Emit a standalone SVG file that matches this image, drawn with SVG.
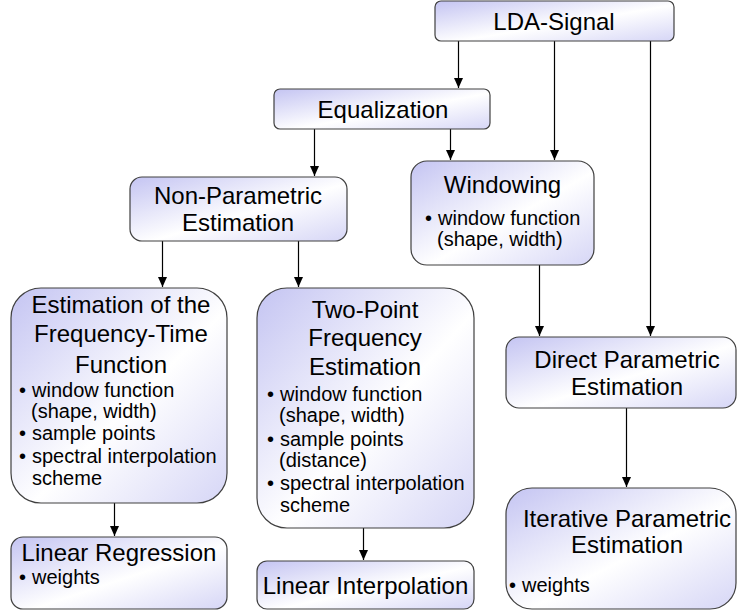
<svg xmlns="http://www.w3.org/2000/svg" width="737" height="615" viewBox="0 0 737 615">
<defs>
<linearGradient id="g" x1="0" y1="0" x2="1" y2="1">
<stop offset="0" stop-color="#c4c4f2"/>
<stop offset="0.55" stop-color="#ffffff"/>
<stop offset="1" stop-color="#d6d6f6"/>
</linearGradient>
<marker id="ah" viewBox="0 0 10 10" refX="10" refY="5" markerWidth="10" markerHeight="10" markerUnits="userSpaceOnUse" orient="auto">
<path d="M0,0.5 L10,5 L0,9.5 z" fill="#000"/>
</marker>
<style>
.box{fill:url(#g);stroke:#404040;stroke-width:1.2}
.t{font-family:"Liberation Sans",Arial,sans-serif;font-size:24px;fill:#000;text-anchor:middle}
.b{font-family:"Liberation Sans",Arial,sans-serif;font-size:20px;fill:#000}
.c{fill:none;stroke:#000;stroke-width:1.2;marker-end:url(#ah)}
</style>
</defs>
<rect width="737" height="615" fill="#fff"/>
<g id="connectors">
<path class="c" d="M458.5,41 V88"/>
<path class="c" d="M554.5,41 V160"/>
<path class="c" d="M650.5,41 V336"/>
<path class="c" d="M314.5,129 V176"/>
<path class="c" d="M450.5,129 V160"/>
<path class="c" d="M162.5,241 V287"/>
<path class="c" d="M298.5,241 V287"/>
<path class="c" d="M539.5,265 V336"/>
<path class="c" d="M114.5,503 V536"/>
<path class="c" d="M363.5,528 V560"/>
<path class="c" d="M626.5,408 V487"/>
</g>
<g id="lda">
<rect class="box" x="435" y="1" width="239" height="40" rx="6"/>
<text class="t" x="554" y="30">LDA-Signal</text>
</g>
<g id="equalization">
<rect class="box" x="274" y="89" width="216" height="40" rx="6"/>
<text class="t" x="383" y="118">Equalization</text>
</g>
<g id="nonparametric">
<rect class="box" x="130" y="177" width="217" height="64" rx="12"/>
<text class="t" x="238" y="204">Non-Parametric</text>
<text class="t" x="238" y="231">Estimation</text>
</g>
<g id="windowing">
<rect class="box" x="411" y="161" width="183" height="104" rx="16"/>
<text class="t" x="502.5" y="193">Windowing</text>
<text class="b" x="425" y="225">•</text>
<text class="b" x="438" y="225">window function</text>
<text class="b" x="437" y="246">(shape, width)</text>
</g>
<g id="estft">
<rect class="box" x="11" y="288" width="216" height="215" rx="30"/>
<text class="t" x="121" y="313">Estimation of the</text>
<text class="t" x="121" y="342">Frequency-Time</text>
<text class="t" x="121" y="373">Function</text>
<text class="b" x="19" y="397">•</text>
<text class="b" x="32" y="397">window function</text>
<text class="b" x="31" y="418">(shape, width)</text>
<text class="b" x="19" y="440">•</text>
<text class="b" x="32" y="440">sample points</text>
<text class="b" x="19" y="463">•</text>
<text class="b" x="32" y="463">spectral interpolation</text>
<text class="b" x="32" y="485">scheme</text>
</g>
<g id="twopoint">
<rect class="box" x="257" y="288" width="217" height="240" rx="30"/>
<text class="t" x="365" y="318">Two-Point</text>
<text class="t" x="365" y="346">Frequency</text>
<text class="t" x="365" y="375">Estimation</text>
<text class="b" x="267" y="401">•</text>
<text class="b" x="280" y="401">window function</text>
<text class="b" x="279" y="422">(shape, width)</text>
<text class="b" x="267" y="446">•</text>
<text class="b" x="280" y="446">sample points</text>
<text class="b" x="279" y="467">(distance)</text>
<text class="b" x="267" y="490">•</text>
<text class="b" x="280" y="490">spectral interpolation</text>
<text class="b" x="280" y="512">scheme</text>
</g>
<g id="linreg">
<rect class="box" x="11" y="537" width="216" height="72" rx="12"/>
<text class="t" x="119" y="561">Linear Regression</text>
<text class="b" x="19" y="584">•</text>
<text class="b" x="32" y="584">weights</text>
</g>
<g id="lininterp">
<rect class="box" x="257" y="561" width="217" height="48" rx="10"/>
<text class="t" x="365.5" y="594">Linear Interpolation</text>
</g>
<g id="direct">
<rect class="box" x="506" y="337" width="230" height="71" rx="13"/>
<text class="t" x="627" y="368">Direct Parametric</text>
<text class="t" x="627" y="395">Estimation</text>
</g>
<g id="iterative">
<rect class="box" x="506" y="488" width="230" height="121" rx="26"/>
<text class="t" x="627" y="527">Iterative Parametric</text>
<text class="t" x="627" y="553">Estimation</text>
<text class="b" x="509" y="592">•</text>
<text class="b" x="522" y="592">weights</text>
</g>
</svg>
